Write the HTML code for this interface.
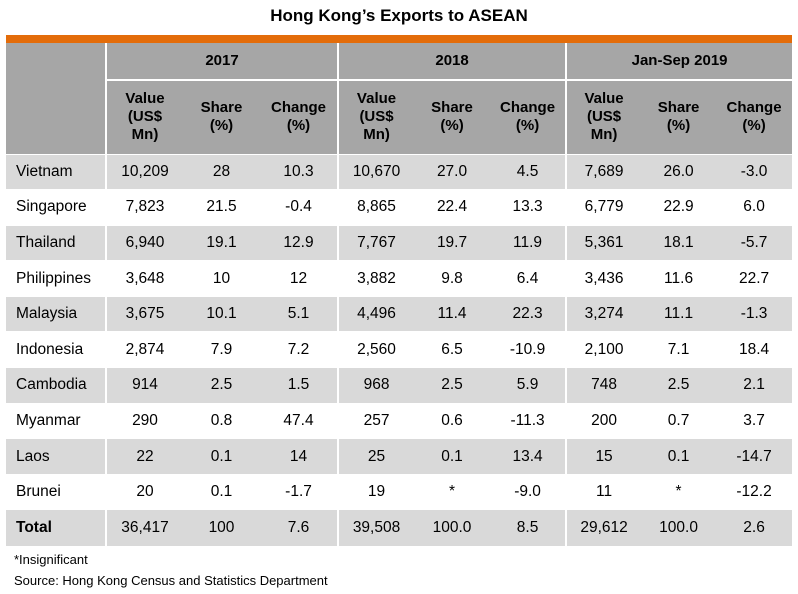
<!DOCTYPE html>
<html><head><meta charset="utf-8"><style>
body{margin:0;width:798px;height:594px;background:#fff;font-family:"Liberation Sans",Arial,sans-serif;position:relative;overflow:hidden}
#title{position:absolute;left:0;width:798px;top:6px;text-align:center;font-weight:bold;font-size:17px;color:#000}
#bar{position:absolute;left:6px;top:35px;width:786px;height:8px;background:#e36c0a}
table{position:absolute;left:6px;top:43px;width:786px;border-collapse:collapse;table-layout:fixed;font-size:15.5px;color:#000}
td{padding:0;text-align:center;vertical-align:middle}
thead td{background:#a6a6a6;font-weight:bold;font-size:15px;line-height:18px}
.gl{border-left:2px solid #fff}
.yr td.g{border-bottom:2px solid #fff}
tbody td{border-top:1px solid #fff}
tbody td:first-child{text-align:left;padding-left:10px}
tbody tr.s td{background:#d9d9d9}
tbody tr.t td{font-weight:normal}
.note{position:absolute;left:14px;font-size:13px;color:#000}
</style></head><body>
<div id="title">Hong Kong’s Exports to ASEAN</div>
<div id="bar"></div>
<table>
<colgroup><col style="width:100px"><col style="width:77px"><col style="width:77px"><col style="width:78px"><col style="width:76px"><col style="width:76px"><col style="width:76px"><col style="width:75px"><col style="width:75px"><col style="width:76px"></colgroup>
<thead>
<tr class="yr" style="height:37px"><td rowspan="2"></td><td colspan="3" class="g gl">2017</td><td colspan="3" class="g gl">2018</td><td colspan="3" class="g gl">Jan-Sep 2019</td></tr>
<tr style="height:74px">
<td class="gl">Value<br>(US$<br>Mn)</td><td>Share<br>(%)</td><td>Change<br>(%)</td>
<td class="gl">Value<br>(US$<br>Mn)</td><td>Share<br>(%)</td><td>Change<br>(%)</td>
<td class="gl">Value<br>(US$<br>Mn)</td><td>Share<br>(%)</td><td>Change<br>(%)</td>
</tr></thead>
<tbody id="tb"></tbody></table>
<div class="note" style="top:552px">*Insignificant</div>
<div class="note" style="top:573px">Source: Hong Kong Census and Statistics Department</div>
<script>
const countries=["Vietnam","Singapore","Thailand","Philippines","Malaysia","Indonesia","Cambodia","Myanmar","Laos","Brunei","Total"];
const v2017=["10,209","7,823","6,940","3,648","3,675","2,874","914","290","22","20","36,417"];
const s2017=["28","21.5","19.1","10","10.1","7.9","2.5","0.8","0.1","0.1","100"];
const c2017=["10.3","-0.4","12.9","12","5.1","7.2","1.5","47.4","14","-1.7","7.6"];
const v2018=["10,670","8,865","7,767","3,882","4,496","2,560","968","257","25","19","39,508"];
const s2018=["27.0","22.4","19.7","9.8","11.4","6.5","2.5","0.6","0.1","*","100.0"];
const c2018=["4.5","13.3","11.9","6.4","22.3","-10.9","5.9","-11.3","13.4","-9.0","8.5"];
const v2019=["7,689","6,779","5,361","3,436","3,274","2,100","748","200","15","11","29,612"];
const s2019=["26.0","22.9","18.1","11.6","11.1","7.1","2.5","0.7","0.1","*","100.0"];
const c2019=["-3.0","6.0","-5.7","22.7","-1.3","18.4","2.1","3.7","-14.7","-12.2","2.6"];
const tb=document.getElementById('tb');
countries.forEach((c,i)=>{
  const tr=document.createElement('tr');
  
  
  tr.style.height='35.6px';
  if(i%2===0)tr.className='s';
  const vals=[c,v2017[i],s2017[i],c2017[i],v2018[i],s2018[i],c2018[i],v2019[i],s2019[i],c2019[i]];
  const names=['country','value-2017','share-2017','change-2017','value-2018','share-2018','change-2018','value-2019','share-2019','change-2019'];
  vals.forEach((v,j)=>{
    const td=document.createElement('td');
    
    
    td.textContent=v;
    if(j===1||j===4||j===7)td.className='gl';
    if(j===0&&c==='Total')td.style.fontWeight='bold';
    tr.appendChild(td);
  });
  tb.appendChild(tr);
});
</script>
</body></html>
